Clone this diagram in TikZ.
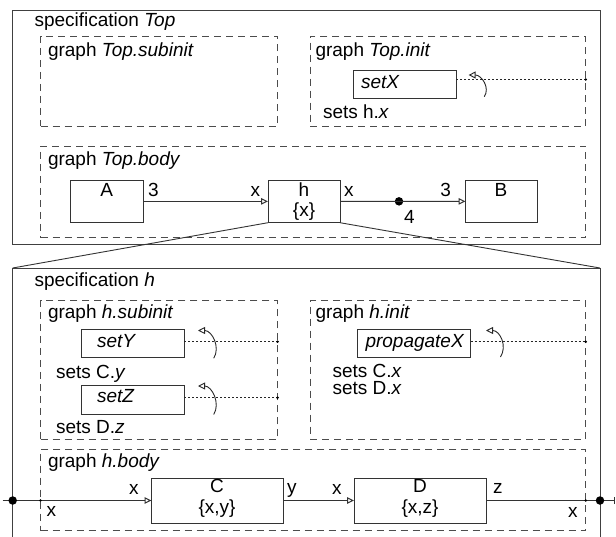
\documentclass[tikz,border=0pt]{standalone}
\usepackage{fontspec}
\setmainfont{Liberation Sans}
\usetikzlibrary{arrows.meta}
\tikzset{
  every node/.style={font=\fontsize{19}{22}\selectfont, inner sep=0pt, outer sep=0pt},
  specbox/.style={draw=black!75, line width=1pt, anchor=north west, rectangle},
  graphbox/.style={draw=black!70, line width=1pt, dash pattern=on 7pt off 5pt, anchor=north west, rectangle},
  actor/.style={draw=black!80, line width=1pt, anchor=north west, rectangle},
  lbl/.style={anchor=base west},
  lblr/.style={anchor=base east},
  lblc/.style={anchor=base},
  flow/.style={line width=1pt, draw=black!80, -{Triangle[open,length=7pt,width=6.5pt]}},
  wire/.style={line width=1pt, draw=black!80},
  dotline/.style={line width=1pt, dash pattern=on 2pt off 2pt, draw=black!85},
  retarrow/.style={line width=0.9pt, draw=black!85, -{Triangle[open,length=7pt,width=7pt]}},
  bigdot/.style={circle, fill=black, minimum size=8.5pt},
  smalldot/.style={circle, fill=black, minimum size=2.8pt},
}
\begin{document}
\begin{tikzpicture}[x=1pt,y=-1pt]
\useasboundingbox (0,0) rectangle (616,536);
\clip (0,0) rectangle (616,536);

% ---------------- specification Top ----------------
\node[specbox, minimum width=587.3pt, minimum height=233.3pt] (Top) at (12.7,10.7) {};
\node[lbl] (tTop) at (34.5,26.7) {specification \textit{Top}};

\node[graphbox, minimum width=237.1pt, minimum height=90pt] (Tsub) at (40.5,36) {};
\node[lbl] (tTsub) at (48,56) {graph \textit{Top.subinit}};

\node[graphbox, minimum width=275.7pt, minimum height=90pt] (Tinit) at (310,36) {};
\node[lbl] (tTinit) at (315.5,56) {graph \textit{Top.init}};
\node[actor, minimum width=103pt, minimum height=28pt] (setX) at (353,70) {};
\node[lbl] (tsetX) at (361,88.5) {\textit{setX}};
\node[lbl] (tsetshx) at (323,118.3) {sets h.\textit{x}};
\coordinate (dX) at (585.7,79.5);
\draw[dotline] (setX.east |- dX) -- (dX);
\node[smalldot] (dXp) at (dX) {};
\coordinate (rXb) at (484.3,96.7);
\coordinate (rXt) at (468.6,75);
\draw[retarrow] (rXb) .. controls +(6,-9) and +(13,0) .. (rXt);

\node[graphbox, minimum width=545.2pt, minimum height=91.7pt] (Tbody) at (40.5,146) {};
\node[lbl] (tTbody) at (48,165) {graph \textit{Top.body}};
\node[actor, minimum width=72.4pt, minimum height=42.7pt] (A) at (70.6,180) {};
\node[actor, minimum width=72pt, minimum height=42.7pt] (h) at (268,180) {};
\node[actor, minimum width=71.5pt, minimum height=42.7pt] (B) at (465.5,180) {};
\node[lblc] (tA) at (106.8,196.7) {A};
\node[lblc] (th) at (304,196.7) {h};
\node[lblc] (thx) at (304,216) {\{x\}};
\node[lblc] (tB) at (501,196.7) {B};
\node[lbl] (pA3) at (148,196.7) {3};
\node[lblr] (phx) at (260,196.7) {x};
\node[lbl] (phxo) at (344,196.7) {x};
\node[lbl] (d4) at (404,223) {4};
\node[lblr] (pB3) at (451,196.7) {3};
\draw[flow] (A.east) -- (h.west);
\node[bigdot] (delay) at (399,201.35) {};
\draw[wire] (h.east) -- (delay.center);
\draw[flow] (delay.center) -- (B.west);

% ---------------- zoom lines ----------------
\node[specbox, minimum width=587.3pt, minimum height=290pt] (H) at (12.7,268) {};
\draw[wire, line width=0.9pt] (h.south west) -- (H.north west);
\draw[wire, line width=0.9pt] (h.south east) -- (H.north east);

% ---------------- specification h ----------------
\node[lbl] (tH) at (34.5,286.7) {specification \textit{h}};

\node[graphbox, minimum width=237.1pt, minimum height=138.6pt] (Hsub) at (40.5,300.7) {};
\node[lbl] (tHsub) at (48,318.3) {graph \textit{h.subinit}};
\node[actor, minimum width=103pt, minimum height=28pt] (setY) at (81,329.3) {};
\node[lbl] (tsetY) at (97,347.5) {\textit{setY}};
\node[lbl] (tsCy) at (56,378) {sets C.\textit{y}};
\node[actor, minimum width=103pt, minimum height=28.5pt] (setZ) at (81,385.5) {};
\node[lbl] (tsetZ) at (97,402) {\textit{setZ}};
\node[lbl] (tsDz) at (56,433) {sets D.\textit{z}};
\coordinate (dY) at (277.6,341.7);
\draw[dotline] (setY.east |- dY) -- (dY);
\node[smalldot] (dYp) at (dY) {};
\coordinate (dZ) at (277.6,397.7);
\draw[dotline] (setZ.east |- dZ) -- (dZ);
\node[smalldot] (dZp) at (dZ) {};
\coordinate (rYb) at (213.7,358.3);
\coordinate (rYt) at (198,330.5);
\draw[retarrow] (rYb) .. controls +(7,-11) and +(14,0) .. (rYt);
\coordinate (rZb) at (213.7,414.5);
\coordinate (rZt) at (198,386);
\draw[retarrow] (rZb) .. controls +(7,-11) and +(14,0) .. (rZt);

\node[graphbox, minimum width=275.7pt, minimum height=138.6pt] (Hinit) at (310,300.7) {};
\node[lbl] (tHinit) at (315.5,318.3) {graph \textit{h.init}};
\node[actor, minimum width=113pt, minimum height=28pt] (propX) at (357.6,329.3) {};
\node[lbl] (tpropX) at (365.5,347.5) {\textit{propagateX}};
\node[lbl] (tsCx) at (332.5,377) {sets C.\textit{x}};
\node[lbl] (tsDx) at (332.5,394) {sets D.\textit{x}};
\coordinate (dP) at (585.7,341.7);
\draw[dotline] (propX.east |- dP) -- (dP);
\node[smalldot] (dPp) at (dP) {};
\coordinate (rPb) at (500.5,357);
\coordinate (rPt) at (486,330.5);
\draw[retarrow] (rPb) .. controls +(7,-11) and +(14,0) .. (rPt);

\node[graphbox, minimum width=545.2pt, minimum height=81.4pt] (Hbody) at (40.5,449.3) {};
\node[lbl] (tHbody) at (48,467.3) {graph \textit{h.body}};
\node[actor, minimum width=131.5pt, minimum height=45pt] (C) at (151.5,478) {};
\node[actor, minimum width=132.7pt, minimum height=45pt] (D) at (354,478) {};
\node[lblc] (tC) at (217,492) {C};
\node[lblc] (tCs) at (217,513) {\{x,y\}};
\node[lblc] (tD) at (420,492) {D};
\node[lblc] (tDs) at (420,513) {\{x,z\}};
\node[lblr] (pCx) at (138.5,494.5) {x};
\node[lbl] (pHx) at (46.5,516) {x};
\node[lbl] (pCy) at (287,493) {y};
\node[lblr] (pDx) at (341.5,494) {x};
\node[lbl] (pDz) at (493,493) {z};
\node[lblr] (pHxo) at (577.5,517) {x};

\coordinate (Lend) at (2.7,500.5);
\coordinate (Rend) at (614.5,500.5);
\draw[flow] (Lend) -- (C.west);
\draw[flow] (C.east) -- (D.west);
\draw[wire] (D.east) -- (Rend);
\draw[wire, line width=0.8pt] ([yshift=-3.5pt]Rend) -- ([yshift=3.5pt]Rend);
\node[bigdot] (hinL) at (12.7,500.5) {};
\node[smalldot] (ginL) at (40.5,500.5) {};
\node[smalldot] (goutR) at (585.7,500.5) {};
\node[bigdot] (houtR) at (600,500.5) {};
\end{tikzpicture}
\end{document}
